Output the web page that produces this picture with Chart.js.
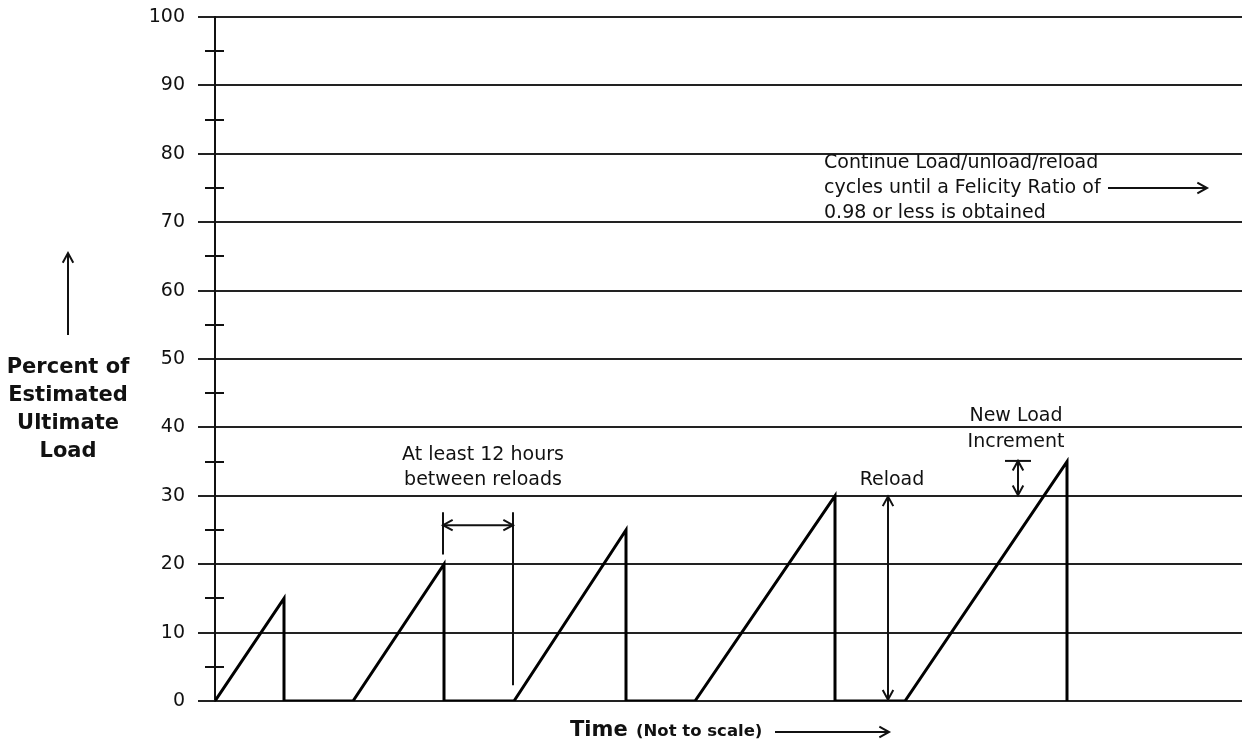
<!DOCTYPE html>
<html>
<head>
<meta charset="utf-8">
<script src="https://cdn.jsdelivr.net/npm/chart.js@4.4.0/dist/chart.umd.min.js"></script>
<style>
  body { margin: 0; background: #fff; }
  #wrap { width: 1244px; height: 746px; position: relative; }
</style>
</head>
<body>
<div id="wrap"><canvas id="loadChart"></canvas></div>
<script>
// time is arbitrary ("not to scale"), load in % of estimated ultimate load
const times = [0, 6.9, 6.9, 13.8, 22.9, 22.9, 29.9, 41.1, 41.1, 48.0, 62.0, 62.0, 69.0, 85.2, 85.2];
const loads = [0, 15, 0, 0, 20, 0, 0, 25, 0, 0, 30, 0, 0, 35, 0];

const yMin = 0;
const yMax = 100;
const yStep = 5;
const xMax = 102.7;

const yTitleLines = ['Percent of', 'Estimated', 'Ultimate', 'Load'];
const continueLines = ['Continue Load/unload/reload', 'cycles until a Felicity Ratio of', '0.98 or less is obtained'];

const INK = '#111';
const FONT = '"DejaVu Sans", Verdana, sans-serif';

function arrowHead(ctx, x, y, angle) {
  const len = 11, spread = 0.5;
  ctx.beginPath();
  ctx.moveTo(x - len * Math.cos(angle - spread), y - len * Math.sin(angle - spread));
  ctx.lineTo(x, y);
  ctx.lineTo(x - len * Math.cos(angle + spread), y - len * Math.sin(angle + spread));
  ctx.stroke();
}

function line(ctx, x1, y1, x2, y2) {
  ctx.beginPath();
  ctx.moveTo(x1, y1);
  ctx.lineTo(x2, y2);
  ctx.stroke();
}

const extras = {
  id: 'extras',
  afterDraw(chart) {
    const ctx = chart.ctx;
    const xs = chart.scales.x, ys = chart.scales.y;
    const px = v => xs.getPixelForValue(v);
    const py = v => ys.getPixelForValue(v);
    const left = chart.chartArea.left;

    ctx.save();
    ctx.strokeStyle = INK;
    ctx.fillStyle = INK;
    ctx.lineWidth = 2;

    // minor ticks crossing the axis
    for (let v = yMin + 5; v < yMax; v += 10) {
      line(ctx, left - 10, Math.round(py(v)), left + 9, Math.round(py(v)));
    }

    // 12 hours between reloads
    line(ctx, px(22.8), py(21.4), px(22.8), py(27.6));
    line(ctx, px(29.8), py(2.3), px(29.8), py(27.6));
    line(ctx, px(22.8), py(25.7), px(29.8), py(25.7));
    arrowHead(ctx, px(22.8), py(25.7), Math.PI);
    arrowHead(ctx, px(29.8), py(25.7), 0);

    // reload arrow
    line(ctx, px(67.3), py(0.2), px(67.3), py(29.9));
    arrowHead(ctx, px(67.3), py(29.9), -Math.PI / 2);
    arrowHead(ctx, px(67.3), py(0.2), Math.PI / 2);

    // new load increment
    line(ctx, px(79.0), py(35.1), px(81.6), py(35.1));
    line(ctx, px(80.3), py(35.1), px(80.3), py(30.1));
    arrowHead(ctx, px(80.3), py(35.1), -Math.PI / 2);
    arrowHead(ctx, px(80.3), py(30.1), Math.PI / 2);

    // continue arrow
    line(ctx, px(89.3), py(75.0), px(99.2), py(75.0));
    arrowHead(ctx, px(99.2), py(75.0), 0);

    // annotation text
    ctx.font = '19px ' + FONT;
    ctx.textBaseline = 'middle';
    ctx.textAlign = 'center';
    ctx.fillText('At least 12 hours', px(26.8), py(36.0));
    ctx.fillText('between reloads', px(26.8), py(32.3));
    ctx.fillText('Reload', px(67.7), py(32.3));
    ctx.fillText('New Load', px(80.1), py(41.7));
    ctx.fillText('Increment', px(80.1), py(37.9));
    ctx.textAlign = 'left';
    continueLines.forEach((t, i) => ctx.fillText(t, px(60.9), py(78.7 - i * 3.7)));

    // y axis title with up arrow
    line(ctx, 68, 335, 68, 253);
    arrowHead(ctx, 68, 253, -Math.PI / 2);
    ctx.font = 'bold 21px ' + FONT;
    ctx.textAlign = 'center';
    yTitleLines.forEach((t, i) => ctx.fillText(t, 68, 368 + i * 27.7));

    // x axis title with arrow
    ctx.textAlign = 'left';
    ctx.textBaseline = 'alphabetic';
    ctx.font = 'bold 21px ' + FONT;
    ctx.fillText('Time', 570, 736);
    ctx.font = 'bold 16.5px ' + FONT;
    ctx.fillText('(Not to scale)', 636, 736);
    line(ctx, 775, 732, 889, 732);
    arrowHead(ctx, 889, 732, 0);

    ctx.restore();
  }
};

new Chart(document.getElementById('loadChart'), {
  type: 'scatter',
  data: {
    datasets: [{
      data: times.map((t, i) => ({ x: t, y: loads[i] })),
      showLine: true,
      borderColor: '#000',
      borderWidth: 3,
      pointRadius: 0,
      borderJoinStyle: 'miter',
      tension: 0
    }]
  },
  options: {
    responsive: true,
    maintainAspectRatio: false,
    animation: false,
    layout: { padding: { top: 17, bottom: 45, right: 2, left: 0 } },
    plugins: { legend: { display: false }, tooltip: { enabled: false } },
    scales: {
      x: { type: 'linear', min: 0, max: xMax, display: false },
      y: {
        min: yMin,
        max: yMax,
        afterFit: s => {
          s.width = 215;
          s.paddingTop = 0;
          s.paddingBottom = 0;
        },
        border: { display: true, color: INK, width: 2 },
        grid: {
          lineWidth: 2,
          color: c => c.tick.value % 10 === 0 ? '#222' : 'transparent',
          tickColor: c => c.tick.value % 10 === 0 ? '#222' : 'transparent',
          tickLength: 17
        },
        ticks: {
          stepSize: yStep,
          padding: 13,
          color: INK,
          font: { family: FONT, size: 19 },
          callback: v => v % 10 === 0 ? v : ''
        }
      }
    }
  },
  plugins: [extras]
});
</script>
</body>
</html>
